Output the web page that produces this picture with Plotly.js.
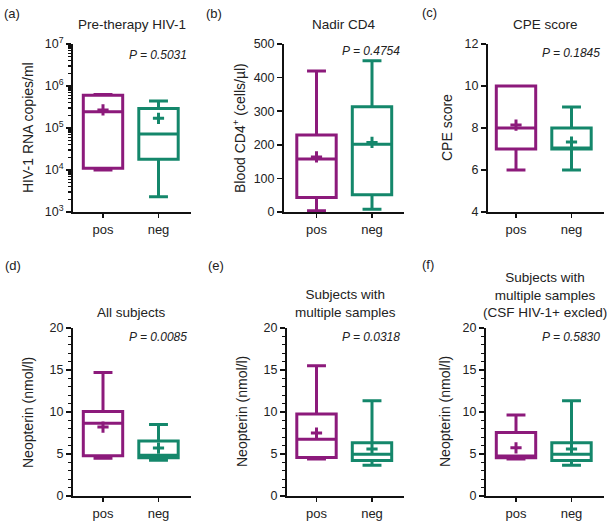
<!DOCTYPE html>
<html>
<head>
<meta charset="utf-8">
<script src="https://cdn.plot.ly/plotly-3.0.1.min.js"></script>
<style>html,body{margin:0;padding:0;background:#fff}#chart{width:612px;height:524px}</style>
</head>
<body>
<div id="chart"></div>
<script>
// ---------- data ----------
const categories = ['pos', 'neg'];

// (a) Pre-therapy HIV-1 RNA copies/ml (log scale)
const hivMin  = [1.0e4, 2.3e3];
const hivQ1   = [1.1e4, 1.8e4];
const hivMed  = [2.45e5, 7.2e4];
const hivQ3   = [6.0e5, 2.9e5];
const hivMax  = [6.3e5, 4.4e5];
const hivMean = [2.7e5, 1.7e5];

// (b) Nadir CD4
const cd4Min  = [4, 8];
const cd4Q1   = [43, 51];
const cd4Med  = [158, 202];
const cd4Q3   = [229, 313];
const cd4Max  = [420, 450];
const cd4Mean = [164, 207];

// (c) CPE score
const cpeMin  = [6, 6];
const cpeQ1   = [7, 7];
const cpeMed  = [8, 7];
const cpeQ3   = [10, 8];
const cpeMax  = [10, 9];
const cpeMean = [8.14, 7.33];

// (d) Neopterin, all subjects
const allMin  = [4.5, 4.25];
const allQ1   = [4.8, 4.55];
const allMed  = [8.65, 4.85];
const allQ3   = [10.05, 6.55];
const allMax  = [14.7, 8.5];
const allMean = [8.2, 5.7];

// (e) Neopterin, subjects with multiple samples
const mulMin  = [4.4, 3.66];
const mulQ1   = [4.58, 4.22];
const mulMed  = [6.77, 4.98];
const mulQ3   = [9.76, 6.33];
const mulMax  = [15.5, 11.35];
const mulMean = [7.5, 5.6];

// (f) Neopterin, multiple samples, CSF HIV-1+ excluded
const excMin  = [4.4, 3.66];
const excQ1   = [4.55, 4.22];
const excMed  = [4.75, 4.98];
const excQ3   = [7.57, 6.33];
const excMax  = [9.64, 11.35];
const excMean = [5.73, 5.6];

const panelLetters = ['(a)', '(b)', '(c)', '(d)', '(e)', '(f)'];
const panelTitles = [
  'Pre-therapy HIV-1',
  'Nadir CD4',
  'CPE score',
  'All subjects',
  'Subjects with<br>multiple samples',
  'Subjects with<br>multiple samples<br>(CSF HIV-1+ excled)'
];
const yTitles = [
  'HIV-1 RNA copies/ml',
  'Blood CD4<sup>+</sup> (cells/µl)',
  'CPE score',
  'Neopterin (nmol/l)',
  'Neopterin (nmol/l)',
  'Neopterin (nmol/l)'
];
const pValues = ['P = 0.5031', 'P = 0.4754', 'P = 0.1845', 'P = 0.0085', 'P = 0.0318', 'P = 0.5830'];
const logTickVals = [1e3, 1e4, 1e5, 1e6, 1e7];
const logTickText = ['10<sup>3</sup>', '10<sup>4</sup>', '10<sup>5</sup>', '10<sup>6</sup>', '10<sup>7</sup>'];

// ---------- layout helpers ----------
const W = 612, H = 524;
const PURPLE = '#8c1a7b', GREEN = '#14876b';
const colors = [PURPLE, GREEN];
const FONT = 'Liberation Sans, Arial, Helvetica, sans-serif';
const TXT = '#222';

const stats = [
  [hivMin, hivQ1, hivMed, hivQ3, hivMax, hivMean],
  [cd4Min, cd4Q1, cd4Med, cd4Q3, cd4Max, cd4Mean],
  [cpeMin, cpeQ1, cpeMed, cpeQ3, cpeMax, cpeMean],
  [allMin, allQ1, allMed, allQ3, allMax, allMean],
  [mulMin, mulQ1, mulMed, mulQ3, mulMax, mulMean],
  [excMin, excQ1, excMed, excQ3, excMax, excMean]
];

// pixel geometry per panel: left axis x, pos-centre x, plot top, plot bottom
const spacing = 55.5;
const geo = [
  {left: 73,  pos: 103,   top: 44,  bot: 212},
  {left: 284, pos: 316.5, top: 44,  bot: 212},
  {left: 488, pos: 516,   top: 44,  bot: 212},
  {left: 73,  pos: 103,   top: 328, bot: 496},
  {left: 287, pos: 316.5, top: 328, bot: 496},
  {left: 486, pos: 516,   top: 328, bot: 496}
];
const yRanges = [[3, 7], [0, 500], [4, 12], [0, 20], [0, 20], [0, 20]];
const yDticks = [null, 100, 2, 5, 5, 5];
const yMinor = [{dtick: 'D1'}, null, null, {dtick: 1}, {dtick: 1}, {dtick: 1}];
const titleY = [25, 25, 25, 313, 313, 313];
const letterPos = [[12, 13], [214, 13], [430, 12], [13, 265], [216, 265], [428, 264]];
const yTitleX = [28, 239, 447, 28, 242, 445];
const pY = [55, 51, 53, 337, 337, 337];

const px = x => x / W;
const py = y => 1 - y / H;

const traces = [];
const layout = {
  width: W, height: H,
  margin: {l: 0, r: 0, t: 0, b: 0},
  paper_bgcolor: '#fff', plot_bgcolor: '#fff',
  showlegend: false,
  font: {family: FONT, color: TXT, size: 12},
  annotations: []
};

geo.forEach((g, i) => {
  const n = i + 1;
  const xa = 'x' + (n === 1 ? '' : n), ya = 'y' + (n === 1 ? '' : n);
  const right = g.pos + spacing + 32;
  const r0 = -(g.pos - g.left) / spacing;
  const r1 = 1 + (right - g.pos - spacing) / spacing;
  const [mn, q1, md, q3, mx, mean] = stats[i];

  categories.forEach((c, k) => {
    traces.push({
      type: 'box', x: [c], xaxis: xa, yaxis: ya,
      q1: [q1[k]], median: [md[k]], q3: [q3[k]],
      lowerfence: [mn[k]], upperfence: [mx[k]],
      width: 0.71, whiskerwidth: 0.48,
      line: {color: colors[k], width: 3},
      fillcolor: 'rgba(0,0,0,0)',
      boxpoints: false, hoverinfo: 'skip'
    });
    traces.push({
      type: 'scatter', mode: 'markers', x: [c], y: [mean[k]], xaxis: xa, yaxis: ya,
      marker: {symbol: 'cross-thin', size: 8, color: colors[k], line: {color: colors[k], width: 3}},
      hoverinfo: 'skip'
    });
  });

  const xkey = 'xaxis' + (n === 1 ? '' : n), ykey = 'yaxis' + (n === 1 ? '' : n);
  layout[xkey] = {
    domain: [px(g.left), px(right)], anchor: ya,
    type: 'category', categoryorder: 'array', categoryarray: categories,
    range: [r0, r1], fixedrange: true,
    showline: true, linecolor: '#111', linewidth: 2,
    ticks: 'outside', ticklen: 4, tickwidth: 1.5, tickcolor: '#111',
    showgrid: false, zeroline: false,
    tickfont: {family: FONT, size: 13, color: TXT}
  };
  const yax = {
    domain: [py(g.bot), py(g.top)], anchor: xa,
    range: yRanges[i], fixedrange: true,
    showline: true, linecolor: '#111', linewidth: 2,
    ticks: 'outside', ticklen: 5, tickwidth: 1.5, tickcolor: '#111',
    showgrid: false, zeroline: false,
    tickfont: {family: FONT, size: 12.5, color: TXT}
  };
  if (i === 0) {
    yax.type = 'log';
    yax.tickmode = 'array';
    yax.tickvals = logTickVals;
    yax.ticktext = logTickText;
  } else {
    yax.dtick = yDticks[i];
    yax.tick0 = 0;
  }
  if (yMinor[i]) {
    yax.minor = Object.assign({ticks: 'outside', ticklen: 3, tickwidth: 1.2, tickcolor: '#111', showgrid: false}, yMinor[i]);
  }
  layout[ykey] = yax;

  // panel title
  layout.annotations.push({
    xref: 'paper', yref: 'paper', x: px((g.left + right) / 2), y: py(titleY[i] + 9),
    xanchor: 'center', yanchor: 'bottom', showarrow: false,
    text: panelTitles[i], font: {family: FONT, size: 13.5, color: TXT}
  });
  // panel letter
  layout.annotations.push({
    xref: 'paper', yref: 'paper', x: px(letterPos[i][0]), y: py(letterPos[i][1]),
    xanchor: 'center', yanchor: 'middle', showarrow: false,
    text: panelLetters[i], font: {family: FONT, size: 13, color: TXT}
  });
  // y-axis title
  layout.annotations.push({
    xref: 'paper', yref: 'paper', x: px(yTitleX[i]), y: py((g.top + g.bot) / 2),
    xanchor: 'center', yanchor: 'middle', showarrow: false, textangle: -90,
    text: yTitles[i], font: {family: FONT, size: 14, color: TXT}
  });
  // p-value
  layout.annotations.push({
    xref: 'paper', yref: 'paper', x: px(right - 2), y: py(pY[i]),
    xanchor: 'right', yanchor: 'middle', showarrow: false,
    text: '<i>' + pValues[i] + '</i>', font: {family: FONT, size: 12, color: TXT}
  });
});

Plotly.newPlot('chart', traces, layout, {displayModeBar: false, staticPlot: true});
</script>
</body>
</html>
